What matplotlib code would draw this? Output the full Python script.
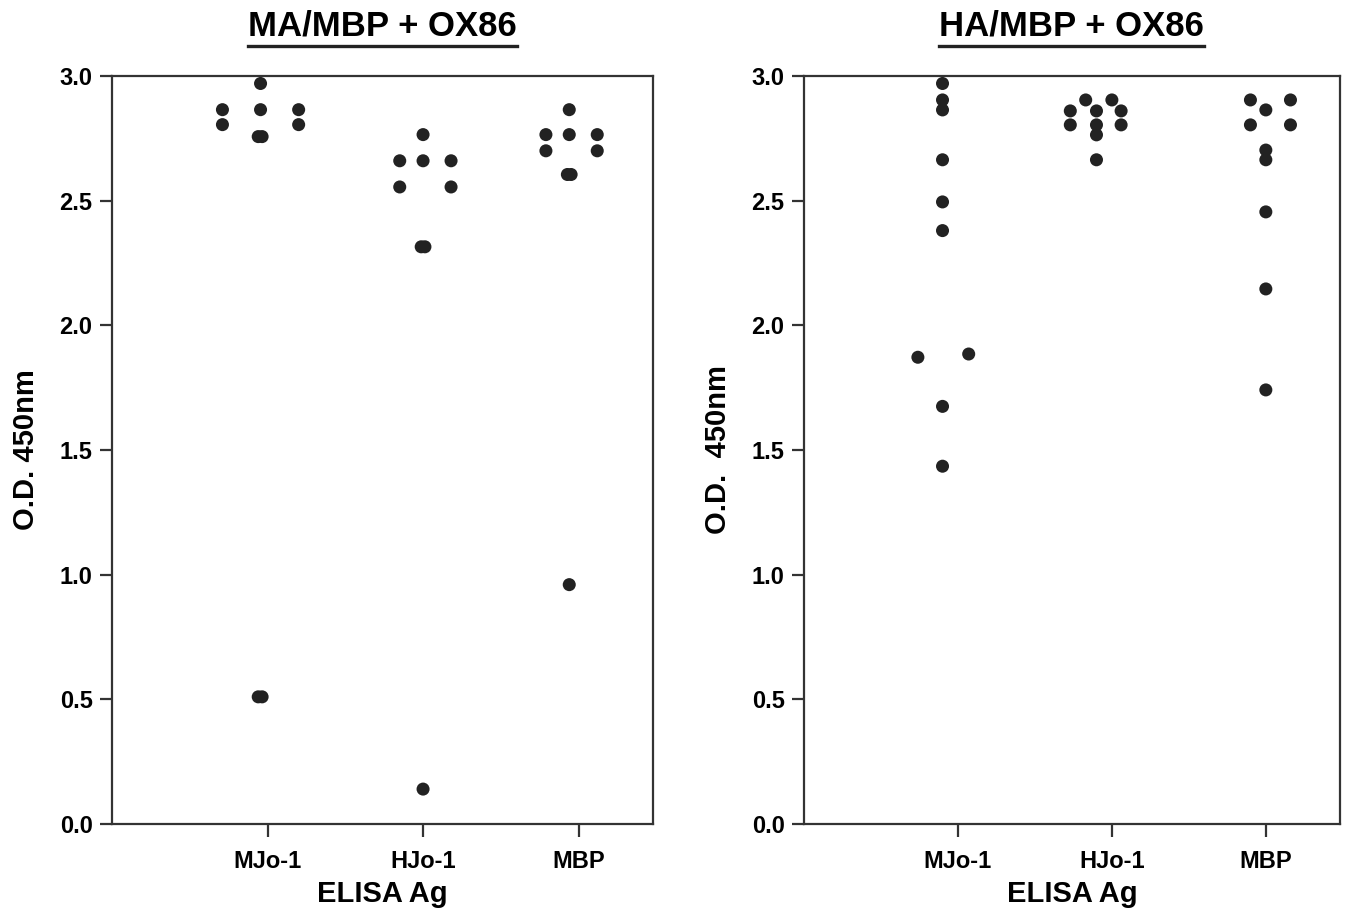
import matplotlib
matplotlib.use("Agg")
import matplotlib.pyplot as plt

plt.rcParams['font.family'] = ['Liberation Sans', 'DejaVu Sans']
plt.rcParams['font.weight'] = 'bold'

categories = ["MJo-1", "HJo-1", "MBP"]

# left panel: MA/MBP + OX86  (values, x-jitter)
left_mjo_y = [2.97, 2.865, 2.865, 2.865, 2.805, 2.805, 2.757, 2.757, 0.51, 0.51]
left_mjo_dx = [-0.045, -0.29, -0.045, 0.20, -0.29, 0.20, -0.06, -0.035, -0.06, -0.035]
left_hjo_y = [2.765, 2.66, 2.66, 2.66, 2.555, 2.555, 2.315, 2.315, 0.14]
left_hjo_dx = [0.0, -0.15, 0.0, 0.18, -0.15, 0.18, -0.012, 0.012, 0.0]
left_mbp_y = [2.865, 2.765, 2.765, 2.765, 2.70, 2.70, 2.605, 2.605, 0.96]
left_mbp_dx = [-0.06, -0.21, -0.06, 0.12, -0.21, 0.12, -0.072, -0.048, -0.06]

# right panel: HA/MBP + OX86
right_mjo_y = [2.97, 2.904, 2.864, 2.664, 2.495, 2.38, 1.872, 1.885, 1.675, 1.435]
right_mjo_dx = [-0.10, -0.10, -0.10, -0.10, -0.10, -0.10, -0.26, 0.07, -0.10, -0.10]
right_hjo_y = [2.904, 2.904, 2.86, 2.86, 2.86, 2.804, 2.804, 2.804, 2.764, 2.664]
right_hjo_dx = [-0.17, 0.0, -0.27, -0.10, 0.06, -0.27, -0.10, 0.06, -0.10, -0.10]
right_mbp_y = [2.904, 2.904, 2.864, 2.804, 2.804, 2.703, 2.664, 2.455, 2.146, 1.741]
right_mbp_dx = [-0.10, 0.16, 0.0, -0.10, 0.16, 0.0, 0.0, 0.0, 0.0, 0.0]

panels = [
    ("MA/MBP + OX86", "O.D. 450nm",
     [(left_mjo_y, left_mjo_dx), (left_hjo_y, left_hjo_dx), (left_mbp_y, left_mbp_dx)]),
    ("HA/MBP + OX86", "O.D.  450nm",
     [(right_mjo_y, right_mjo_dx), (right_hjo_y, right_hjo_dx), (right_mbp_y, right_mbp_dx)]),
]

fig = plt.figure(figsize=(13.53, 9.18), dpi=100)
axes = [fig.add_axes([0.0828, 0.1024, 0.400, 0.8148]),
        fig.add_axes([0.5942, 0.1024, 0.396, 0.8148])]

line_col = "#333333"
dot_col = "#222222"

for ax, (title, ylab, groups) in zip(axes, panels):
    for i, (ys, dxs) in enumerate(groups):
        xs = [i + 1 + d for d in dxs]
        ax.scatter(xs, ys, s=88, color=dot_col, edgecolors="none", zorder=3, clip_on=False)
    ax.set_xlim(0, 3.48)
    ax.set_ylim(0, 3.0)
    ax.set_xticks([1, 2, 3])
    ax.set_xticklabels(categories)
    ax.set_yticks([0, 0.5, 1.0, 1.5, 2.0, 2.5, 3.0])
    ax.set_yticklabels(["%.1f" % v for v in [0, 0.5, 1.0, 1.5, 2.0, 2.5, 3.0]])
    for sp in ax.spines.values():
        sp.set_color(line_col)
        sp.set_linewidth(1.6)
    ax.tick_params(direction="out", length=9, width=1.6, color=line_col,
                   labelsize=17, pad=5)
    ax.tick_params(axis="x", pad=10)
    for lab in ax.get_xticklabels() + ax.get_yticklabels():
        lab.set_fontweight("bold")
    ax.set_xlabel("ELISA Ag", fontsize=21, fontweight="bold", labelpad=5)
    ax.set_ylabel(ylab, fontsize=21, fontweight="bold", labelpad=14)
    ax.set_title(title, fontsize=25, fontweight="bold", pad=29)

# underline titles
fig.canvas.draw()
r = fig.canvas.get_renderer()
for ax in axes:
    bb = ax.title.get_window_extent(r)
    inv = fig.transFigure.inverted()
    (x0, y0), (x1, y1) = inv.transform([(bb.x0, bb.y0), (bb.x1, bb.y1)])
    yl = 1 - 46 / 918
    fig.add_artist(plt.Line2D([x0, x1], [yl, yl], color="#222222", linewidth=2.4))

fig.savefig("out.png", dpi=100)
